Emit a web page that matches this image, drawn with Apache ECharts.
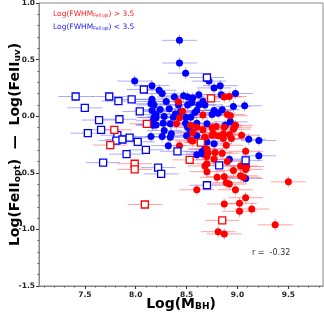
<!DOCTYPE html>
<html><head><meta charset="utf-8">
<script src="https://cdn.jsdelivr.net/npm/echarts@6/dist/echarts.min.js"></script>
<style>html,body{margin:0;padding:0;background:#fff}#c{width:324px;height:314px}</style>
</head><body><div id="c"></div>
<script>
// Log(M_BH), Log(FeII_opt)-Log(FeII_uv)
const blueCircles = [[8.43,0.67],[8.43,0.47],[8.49,0.38],[8.72,0.31],[7.99,0.31],[8.16,0.27],[8.23,0.23],[8.26,0.20],[8.77,0.25],[8.83,0.27],[8.38,0.17],[8.47,0.18],[8.51,0.17],[8.56,0.16],[8.62,0.19],[8.84,0.19],[8.98,0.20],[8.16,0.15],[8.16,0.13],[8.18,0.10],[8.24,0.06],[8.33,0.065],[8.51,0.10],[8.66,0.13],[8.62,0.10],[8.68,0.10],[8.96,0.086],[9.07,0.092],[8.60,0.05],[8.58,0.033],[8.77,0.05],[8.85,0.057],[8.75,0.015],[8.81,0.027],[8.20,0.015],[8.20,-0.014],[8.28,-0.003],[8.37,-0.009],[8.49,-0.009],[8.54,-0.01],[8.17,-0.073],[8.20,-0.078],[8.27,-0.062],[8.34,-0.067],[8.49,-0.062],[8.51,-0.097],[8.15,-0.18],[8.26,-0.18],[8.28,-0.127],[8.34,-0.186],[8.35,-0.156],[8.50,-0.173],[8.32,-0.26],[8.60,-0.062],[8.70,-0.067],[8.88,-0.08],[8.93,-0.05],[8.54,-0.133],[8.60,-0.173],[8.70,-0.227],[8.77,-0.244],[8.68,-0.19],[9.11,-0.204],[9.21,-0.215],[8.65,-0.315],[8.68,-0.29],[8.60,-0.34],[8.66,-0.333],[8.92,-0.38],[9.21,-0.35],[9.08,-0.55],[8.15,0.11],[8.16,0.05],[8.18,-0.01],[8.17,-0.04],[8.17,-0.08],[8.30,0.13],[8.42,0.10],[8.44,0.04],[8.39,0.02],[8.55,0.12]];
const redCircles = [[8.42,0.127],[8.46,0.044],[8.43,-0.014],[8.40,-0.067],[8.87,0.17],[8.92,0.174],[8.66,0.01],[8.90,0.015],[8.93,0.004],[8.43,-0.26],[8.54,-0.08],[8.60,-0.097],[8.66,-0.12],[8.75,-0.103],[8.79,-0.09],[8.87,-0.097],[8.97,-0.097],[8.56,-0.144],[8.76,-0.15],[8.68,-0.186],[8.75,-0.168],[8.81,-0.173],[8.86,-0.156],[8.92,-0.162],[8.86,-0.197],[8.94,-0.197],[9.04,-0.168],[8.54,-0.21],[8.56,-0.22],[8.98,-0.08],[8.96,-0.115],[8.89,-0.257],[8.70,-0.29],[9.08,-0.31],[8.71,-0.32],[8.78,-0.32],[8.85,-0.327],[8.70,-0.357],[8.77,-0.38],[8.70,-0.42],[8.68,-0.44],[8.90,-0.40],[9.03,-0.44],[8.96,-0.48],[8.70,-0.49],[9.03,-0.527],[9.06,-0.54],[8.80,-0.54],[9.09,-0.445],[9.08,-0.47],[8.87,-0.534],[8.89,-0.587],[8.92,-0.60],[8.98,-0.65],[8.60,-0.65],[9.50,-0.58],[9.08,-0.72],[9.02,-0.77],[8.87,-0.775],[9.14,-0.82],[9.02,-0.84],[8.81,-1.02],[8.87,-1.04],[9.37,-0.96]];
const redSquares = [[8.11,-0.067],[7.79,-0.12],[7.75,-0.255],[7.99,-0.42],[7.99,-0.47],[8.09,-0.78],[8.74,0.157],[8.64,-0.233],[8.53,-0.386],[8.85,-0.92]];
const blueSquares = [[7.41,0.174],[7.74,0.174],[7.83,0.133],[7.96,0.148],[7.50,0.074],[8.04,0.042],[7.64,-0.034],[7.84,-0.027],[7.53,-0.15],[7.66,-0.12],[7.82,-0.168],[7.81,-0.215],[7.87,-0.206],[7.94,-0.19],[8.02,-0.226],[7.91,-0.335],[8.10,-0.297],[7.68,-0.41],[8.22,-0.454],[8.25,-0.51],[8.08,0.236],[8.70,0.342],[8.41,-0.31],[8.82,-0.435],[9.08,-0.39],[8.70,-0.61]];
const errCircle = [0.17, 0.05];   // [x error, y error]
const errSquare = [0.17, 0.03];
const xTicks = [7.5, 8.0, 8.5, 9.0, 9.5];
const xMinor = [7.1,7.2,7.3,7.4,7.6,7.7,7.8,7.9,8.1,8.2,8.3,8.4,8.6,8.7,8.8,8.9,9.1,9.2,9.3,9.4,9.6,9.7,9.8];
const corrText = 'r =  -0.32';

const FONT = 'DejaVu Sans';
function errSeries(data, err, color) {
  return {
    type: 'custom', xAxisIndex: 0, yAxisIndex: 0, z: 1, silent: true,
    data: data,
    renderItem: function (params, api) {
      const x = api.value(0), y = api.value(1);
      const a = api.coord([x - err[0], y]), b = api.coord([x + err[0], y]);
      const c = api.coord([x, y - err[1]]), d = api.coord([x, y + err[1]]);
      return { type: 'group', children: [
        { type: 'line', shape: { x1: a[0], y1: a[1], x2: b[0], y2: b[1] }, style: { stroke: color, lineWidth: 1 } },
        { type: 'line', shape: { x1: c[0], y1: c[1], x2: d[0], y2: d[1] }, style: { stroke: color, lineWidth: 1 } }
      ]};
    }
  };
}
const chart = echarts.init(document.getElementById('c'), null, { renderer: 'canvas' });
const axisLabelStyle = { fontFamily: FONT, fontSize: 7.5, fontWeight: 'bold', color: '#222' };
chart.setOption({
  animation: false,
  backgroundColor: '#fff',
  grid: { left: 39, right: 1, top: 3, bottom: 28, show: true, borderColor: '#888', borderWidth: 1, containLabel: false, outerBoundsMode: 'none' },
  xAxis: [{
    type: 'value', min: 7.05, max: 9.84, position: 'bottom',
    axisLine: { onZero: false, lineStyle: { color: '#888' } },
    axisTick: { customValues: xTicks, length: 3, lineStyle: { color: '#333' } },
    axisLabel: Object.assign({ customValues: xTicks, margin: 5, formatter: v => v.toFixed(1) }, axisLabelStyle),
    splitLine: { show: false },
    name: 'Log(M{s|BH})', nameLocation: 'middle', nameGap: 11, nameMoveOverlap: false,
    nameTextStyle: { fontFamily: FONT, fontSize: 14, fontWeight: 'bold', color: '#000', verticalAlign: 'top',
      rich: { s: { fontFamily: FONT, fontSize: 9, fontWeight: 'bold', color: '#000', verticalAlign: 'bottom', lineHeight: 9 } } }
  }, {
    type: 'value', min: 7.05, max: 9.84, position: 'bottom',
    axisLine: { show: false, onZero: false },
    axisTick: { customValues: xMinor, length: 1.5, lineStyle: { color: '#555' } },
    axisLabel: { show: false }, splitLine: { show: false }
  }],
  yAxis: {
    type: 'value', min: -1.5, max: 1.0, interval: 0.5,
    axisLine: { onZero: false, lineStyle: { color: '#888' } },
    axisTick: { length: 3, lineStyle: { color: '#333' } },
    minorTick: { show: true, splitNumber: 5, length: 1.5, lineStyle: { color: '#555' } },
    axisLabel: Object.assign({ margin: 4, formatter: v => v.toFixed(1) }, axisLabelStyle),
    splitLine: { show: false },
    name: 'Log(FeII{s|opt})  —  Log(FeII{s|uv})', nameLocation: 'middle', nameRotate: 90, nameGap: 17, nameMoveOverlap: false,
    nameTextStyle: { fontFamily: FONT, fontSize: 14, fontWeight: 'bold', color: '#000',
      rich: { s: { fontFamily: FONT, fontSize: 9, fontWeight: 'bold', color: '#000', verticalAlign: 'bottom', lineHeight: 9 } } }
  },
  graphic: [
    { type: 'text', left: 53, top: 10, style: { text: 'Log(FWHM{s|FeII opt}) > 3.5', fill: '#ff2020', fontFamily: FONT, fontSize: 7.5,
      rich: { s: { fontSize: 4.5, fill: '#ff2020', verticalAlign: 'bottom', lineHeight: 5 } } } },
    { type: 'text', left: 53, top: 23, style: { text: 'Log(FWHM{s|FeII opt}) < 3.5', fill: '#2020ff', fontFamily: FONT, fontSize: 7.5,
      rich: { s: { fontSize: 4.5, fill: '#2020ff', verticalAlign: 'bottom', lineHeight: 5 } } } },
    { type: 'text', left: 252, top: 249, style: { text: corrText, fill: '#333', fontFamily: FONT, fontSize: 8 } }
  ],
  series: [
    errSeries(blueCircles, errCircle, 'rgba(70,70,255,0.45)'),
    errSeries(blueSquares, errSquare, 'rgba(70,70,255,0.45)'),
    errSeries(redCircles, errCircle, 'rgba(255,70,70,0.5)'),
    errSeries(redSquares, errSquare, 'rgba(255,70,70,0.5)'),
    { type: 'scatter', z: 3, data: blueCircles, symbol: 'circle', symbolSize: 7, itemStyle: { color: '#0000ff', opacity: 1 } },
    { type: 'scatter', z: 4, data: redCircles, symbol: 'circle', symbolSize: 7, itemStyle: { color: '#ff0000', opacity: 1 } },
    { type: 'scatter', z: 5, data: blueSquares, symbol: 'rect', symbolSize: 7, itemStyle: { color: '#fff', borderColor: '#0000ff', borderWidth: 1.3, opacity: 1 } },
    { type: 'scatter', z: 5, data: redSquares, symbol: 'rect', symbolSize: 7, itemStyle: { color: '#fff', borderColor: '#ff0000', borderWidth: 1.3, opacity: 1 } }
  ]
});
</script></body></html>
